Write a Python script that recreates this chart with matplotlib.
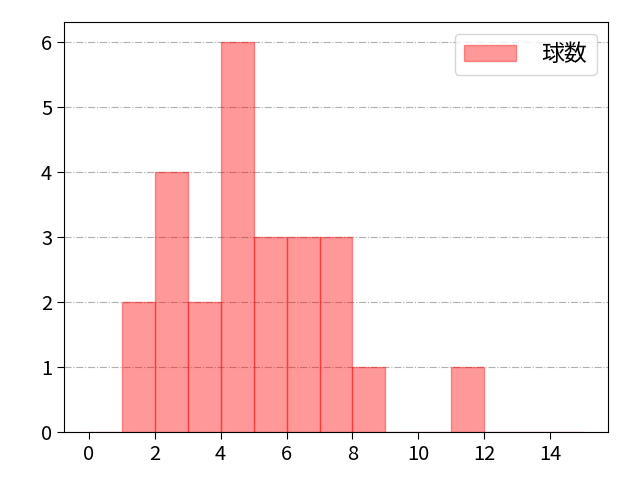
import numpy as np
import matplotlib
matplotlib.use("Agg")
import matplotlib.pyplot as plt

plt.rcParams['font.family'] = ['Noto Sans CJK JP', 'DejaVu Sans']

# bin edges and counts per bin
bin_edges = list(range(0, 16))
counts = [0, 2, 4, 2, 6, 3, 3, 3, 1, 0, 0, 1, 0, 0, 0]
label = "球数"

fig, ax = plt.subplots(figsize=(6.4, 4.8), dpi=100)
fig.subplots_adjust(left=0.1, right=0.95, top=0.954, bottom=0.1)
ax.hist(bin_edges[:-1], bins=bin_edges, weights=counts,
        color='red', alpha=0.4, edgecolor='red', linewidth=1, label=label)
ax.grid(axis='y', linestyle='-.', color='#b0b0b0', linewidth=0.8)
ax.set_axisbelow(True)
ax.set_xticks(range(0, 15, 2))
ax.tick_params(labelsize=14.5, length=5)
ax.legend(fontsize=16.5, loc='upper right', handlelength=2.3, handletextpad=1.1)
fig.savefig("out.png", dpi=100)
